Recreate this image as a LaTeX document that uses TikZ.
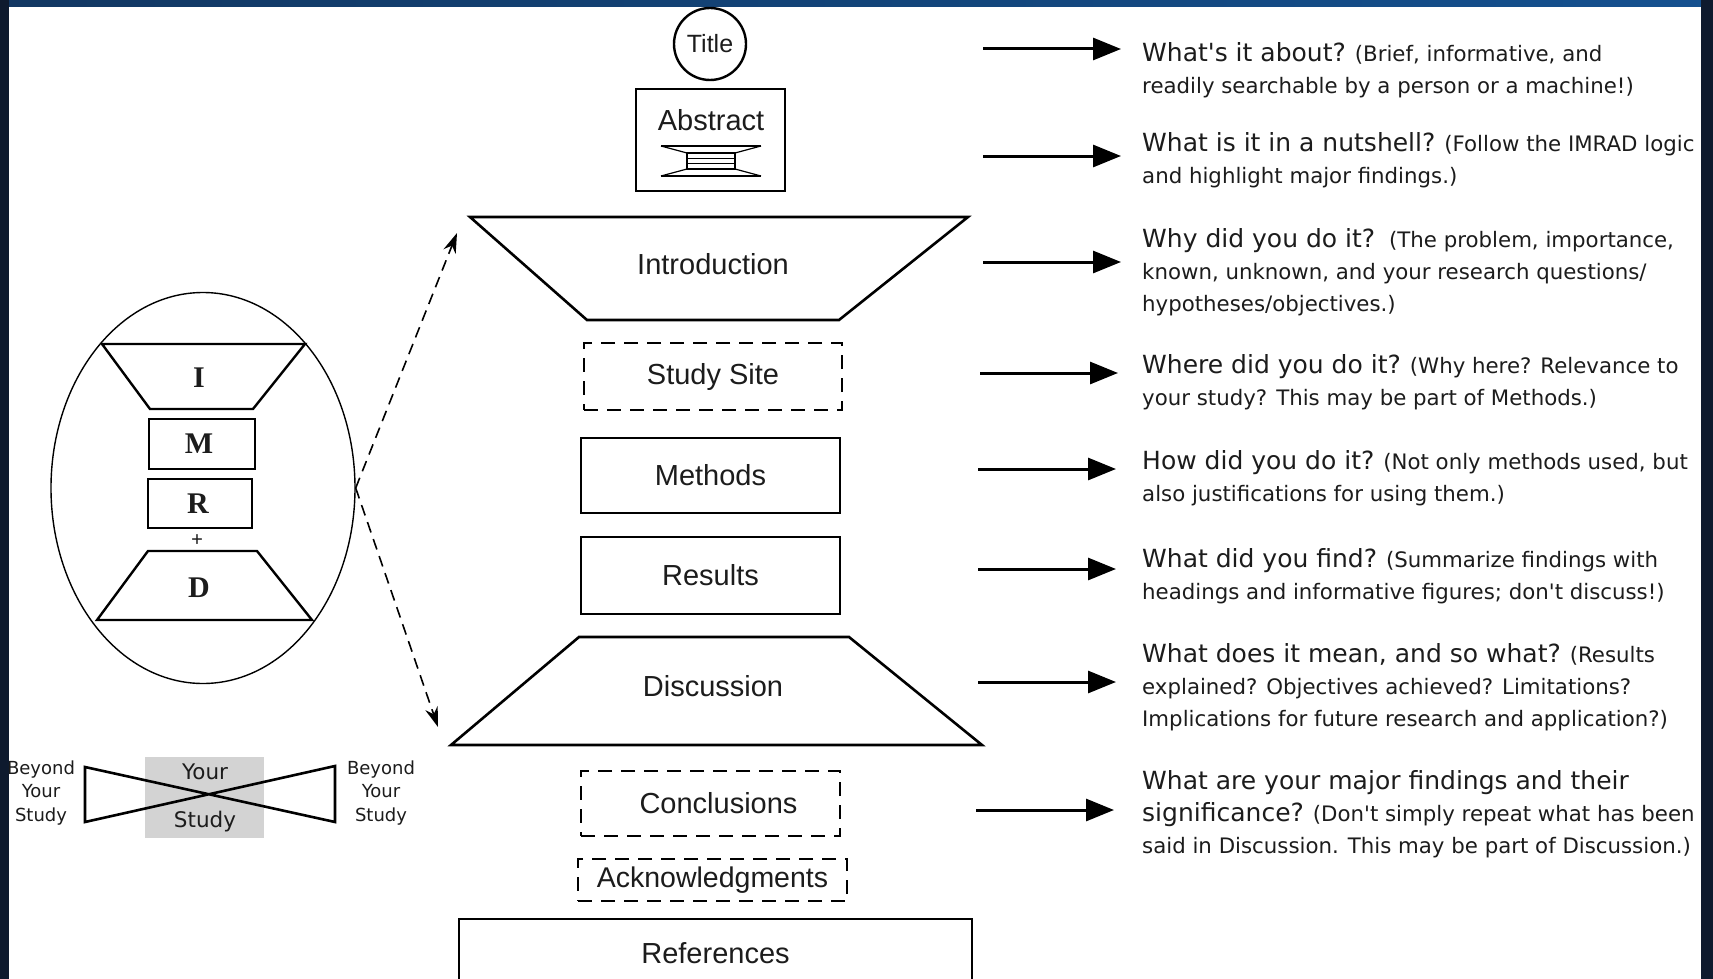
\documentclass[tikz,border=0pt]{standalone}
\usepackage{fontspec}
\usetikzlibrary{arrows.meta,shapes.geometric}
\newfontfamily\qfont[Ligatures=TeXOff]{DejaVu Sans}
\newfontfamily\hfont{Liberation Sans}
\newfontfamily\tfont{Liberation Serif}
\definecolor{navy}{HTML}{0E1A2E}
\definecolor{bandblue}{HTML}{1763B0}
\definecolor{txt}{HTML}{1C1C1C}
\definecolor{boxgray}{HTML}{D3D3D3}
\newcommand\qq[1]{{\fontsize{25}{32}\selectfont #1}}
\newcommand\topstrut{\rule{0pt}{25pt}}
\begin{document}
\begin{tikzpicture}[x=1pt,y=-1pt,
  line join=miter,
  seclabel/.style={font=\hfont\fontsize{29}{34}\selectfont, text=txt, inner sep=0pt},
  secbox/.style={draw=black, line width=2.6pt, inner sep=0pt, font=\hfont\fontsize{29}{34}\selectfont, text=txt},
  dashbox/.style={secbox, dash pattern=on 14pt off 9pt},
  trap/.style={draw=black, line width=2.6pt},
  qtext/.style={anchor=north west, align=left, inner sep=0pt, text=txt, font=\qfont\fontsize{21.3}{32}\selectfont},
  rarrow/.style={line width=3pt, -{Triangle[length=28pt,width=22pt]}},
  darrow/.style={line width=1.6pt, dash pattern=on 11pt off 7pt, -{Stealth[length=20pt,width=13pt]}},
  imr/.style={draw=black, line width=2.4pt, inner sep=0pt, font=\tfont\bfseries\fontsize{30}{34}\selectfont, text=txt},
  imrlabel/.style={inner sep=0pt, font=\tfont\bfseries\fontsize{30}{34}\selectfont, text=txt},
  smalllbl/.style={inner sep=0pt, align=center, text=txt, font=\qfont\fontsize{18}{23.5}\selectfont},
  yslbl/.style={inner sep=0pt, text=txt, font=\qfont\fontsize{21.5}{24}\selectfont}
]
\useasboundingbox (0,0) rectangle (1713,979);
% frame
\fill[navy] (0,0) rectangle (1713,979);
\shade[left color=navy!60!bandblue, middle color=bandblue, right color=bandblue!75!navy] (0,0) rectangle (1713,7);
\fill[white] (9,7) rectangle (1701,979);

% ---------- centre column ----------
\node[circle, draw=black, line width=2.4pt, minimum size=72pt, inner sep=0pt,
      font=\hfont\fontsize{25}{28}\selectfont, text=txt] (title) at (710,44) {Title};

\node[draw=black, line width=2.6pt, minimum width=149pt, minimum height=102pt, inner sep=0pt] (abstract) at (710.5,140) {};
\node[seclabel] (abstracttext) at (711,120) {Abstract};
% abstract icon
\draw[line width=2pt] (661,146) -- (761,146);
\draw[line width=1.2pt] (661,146) -- (687,153) (761,146) -- (735,153)
      (687,169) -- (661,176) (735,169) -- (761,176);
\draw[line width=1.6pt] (687,153) rectangle (735,169);
\draw[line width=1.6pt] (687,158.3) -- (735,158.3) (687,163.6) -- (735,163.6);
\draw[line width=2pt] (661,176) -- (761,176);

\draw[trap] (470,217) -- (968,217) -- (839,320) -- (587,320) -- cycle;
\node[seclabel] (intro) at (713,264) {Introduction};

\node[dashbox, minimum width=258pt, minimum height=67pt] (site) at (713,376.5) {Study Site};
\node[secbox, minimum width=259pt, minimum height=75pt] (methods) at (710.5,475.5) {Methods};
\node[secbox, minimum width=259pt, minimum height=77pt] (results) at (710.5,575.5) {Results};

\draw[trap] (579,637) -- (849,637) -- (982,745) -- (451,745) -- cycle;
\node[seclabel] (discussion) at (713,686) {Discussion};

\node[dashbox, minimum width=259pt, minimum height=65pt] (concl) at (710.5,803.5) {\hspace*{16pt}Conclusions};
\node[dashbox, minimum width=269pt, minimum height=42pt, font=\hfont\fontsize{28.5}{32}\selectfont] (ack) at (712.5,880) {Acknowledgments};
\node[secbox, minimum width=513pt, minimum height=68pt] (refs) at (715.5,953) {References};

% ---------- IMRAD ellipse ----------
\node[ellipse, draw=black, line width=1.4pt, minimum width=304pt, minimum height=391pt, inner sep=0pt] (imrad) at (203,488) {};
\draw[trap, line width=2.4pt] (102,344) -- (305,344) -- (253,409) -- (150,409) -- cycle;
\node[imrlabel] (iI) at (199,378) {I};
\node[imr, minimum width=106pt, minimum height=50pt] (iM) at (202,444) {\hspace*{-6pt}M};
\node[imr, minimum width=104pt, minimum height=49pt] (iR) at (200,503.5) {\hspace*{-4pt}R};
\node[inner sep=0pt, font=\tfont\bfseries\fontsize{21}{21}\selectfont, text=txt] (iplus) at (197,541) {+};
\draw[trap, line width=2.4pt] (148,551) -- (257,551) -- (312,620) -- (97,620) -- cycle;
\node[imrlabel] (iD) at (199,588) {D};

\coordinate (introtip) at (457,233);
\coordinate (disctip) at (438,727);
\draw[darrow] (imrad.east) -- (introtip);
\draw[darrow] (imrad.east) -- (disctip);

% ---------- bow tie ----------
\node[fill=boxgray, minimum width=119pt, minimum height=81pt, inner sep=0pt] (yourstudy) at (204.5,797.5) {};
\draw[line width=2.6pt] (85,767) -- (335,822) -- (335,766) -- (85,822) -- cycle;
\node[yslbl] (your) at (205,772) {Your};
\node[yslbl] (study) at (205,822) {Study};
\node[smalllbl] (beyondL) at (41,793) {Beyond\\Your\\Study};
\node[smalllbl] (beyondR) at (381,793) {Beyond\\Your\\Study};

% ---------- right column ----------
\node[qtext] (q1) at (1142,36) {\topstrut\qq{What's it about?} (Brief, informative, and\\readily searchable by a person or a machine!)};
\node[qtext] (q2) at (1142,126) {\topstrut\qq{What is it in a nutshell?} (Follow the IMRAD logic\\and highlight major findings.)};
\node[qtext] (q3) at (1142,222) {\topstrut\qq{Why did you do it?}\hspace{14pt}(The problem, importance,\\known, unknown, and your research questions/\\hypotheses/objectives.)};
\node[qtext] (q4) at (1142,348) {\topstrut\qq{Where did you do it?} (Why here? Relevance to\\your study? This may be part of Methods.)};
\node[qtext] (q5) at (1142,444) {\topstrut\qq{How did you do it?} (Not only methods used, but\\also justifications for using them.)};
\node[qtext] (q6) at (1142,542) {\topstrut\qq{What did you find?} (Summarize findings with\\headings and informative figures; don't discuss!)};
\node[qtext] (q7) at (1142,637) {\topstrut\qq{What does it mean, and so what?} (Results\\explained? Objectives achieved? Limitations?\\Implications for future research and application?)};
\node[qtext] (q8) at (1142,764) {\topstrut\qq{What are your major findings and their}\\\qq{significance?} (Don't simply repeat what has been\\said in Discussion. This may be part of Discussion.)};

\foreach \i/\x/\y in {1/983/49, 2/983/156, 3/983/262, 4/980/373, 5/978/469, 6/978/569, 7/978/682, 8/976/810}{
  \coordinate (s\i) at (\x,\y);
  \coordinate (e\i) at (\x+138,\y);
  \draw[rarrow] (s\i) -- (e\i);
}

% side strips over everything
\fill[navy] (0,0) rectangle (9,979);
\fill[navy] (1701,0) rectangle (1713,979);
\end{tikzpicture}
\end{document}
